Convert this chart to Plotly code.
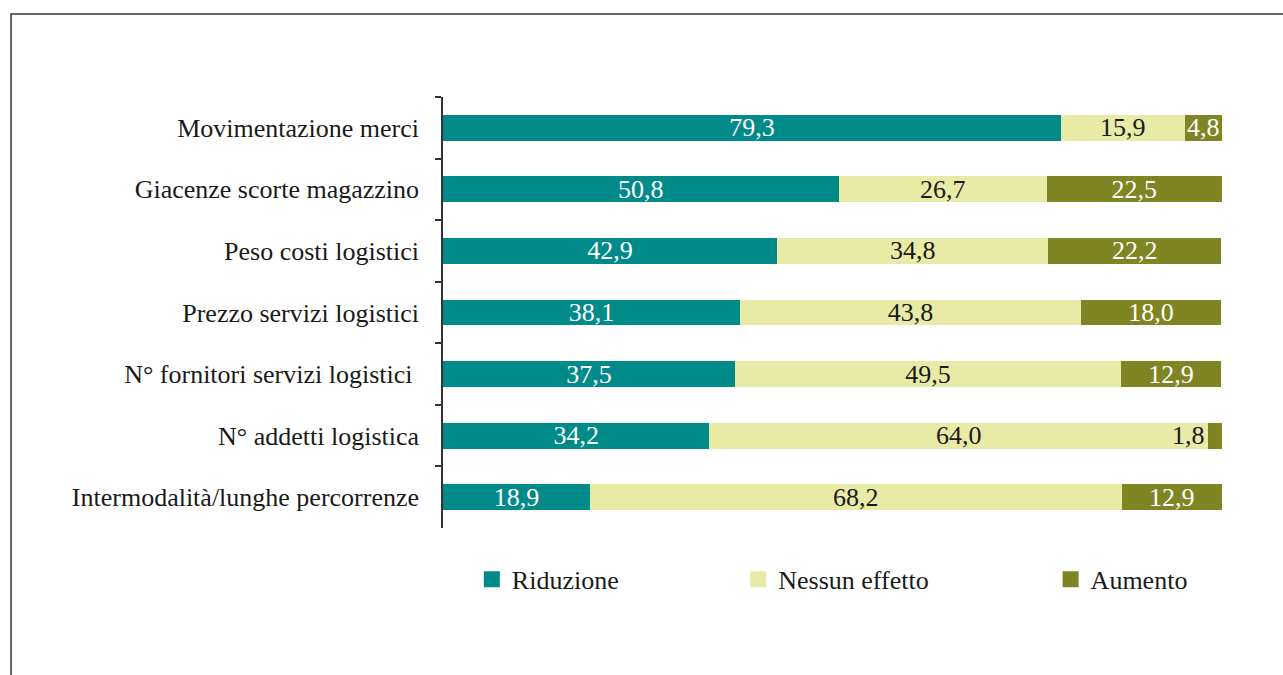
import plotly.graph_objects as go

# Categories listed top to bottom
categories = [
    "Movimentazione merci",
    "Giacenze scorte magazzino",
    "Peso costi logistici",
    "Prezzo servizi logistici",
    "N° fornitori servizi logistici\u00a0",
    "N° addetti logistica",
    "Intermodalità/lunghe percorrenze",
]
riduzione = [79.3, 50.8, 42.9, 38.1, 37.5, 34.2, 18.9]
nessun_effetto = [15.9, 26.7, 34.8, 43.8, 49.5, 64.0, 68.2]
aumento = [4.8, 22.5, 22.2, 18.0, 12.9, 1.8, 12.9]

series_names = ["Riduzione", "Nessun effetto", "Aumento"]
series_values = [riduzione, nessun_effetto, aumento]
colors = ["#008B8A", "#E8EBA6", "#808523"]
text_colors = ["#FFFFFF", "#1A1A1A", "#FFFFFF"]

FONT = "Liberation Serif"
MIN_INSIDE = 3.0  # segments narrower than this get their label outside


def fmt(v):
    return f"{v:.1f}".replace(".", ",")


fig = go.Figure()
annotations = []
for i, (name, vals, col, tcol) in enumerate(zip(series_names, series_values, colors, text_colors)):
    labels = [fmt(v) if v >= MIN_INSIDE else "" for v in vals]
    fig.add_trace(go.Bar(
        y=categories, x=vals, name=name, orientation="h",
        marker=dict(color=col, line=dict(width=0)),
        text=labels, texttemplate="%{text}", textposition="inside",
        insidetextanchor="middle", constraintext="none",
        insidetextfont=dict(family=FONT, size=26, color=tcol),
        showlegend=False, hoverinfo="skip",
    ))
    # narrow segments: label placed just left of the segment
    for j, v in enumerate(vals):
        if v < MIN_INSIDE:
            start = sum(series_values[k][j] for k in range(i))
            annotations.append(dict(
                x=start, y=categories[j], xref="x", yref="y",
                text=fmt(v), showarrow=False, xanchor="right", xshift=-1,
                font=dict(family=FONT, size=26, color="#1A1A1A"),
            ))

# Legend entries (square swatches), one legend per entry
legend_x = [0.037, 0.379, 0.78]
legend_keys = ["legend", "legend2", "legend3"]
for name, col, key in zip(series_names, colors, legend_keys):
    fig.add_trace(go.Scatter(
        x=[None], y=[None], mode="markers", name=name,
        marker=dict(symbol="square", size=17, color=col),
        legend=key, showlegend=True, hoverinfo="skip",
    ))

legend_common = dict(
    orientation="h", yanchor="middle", y=-0.119, xanchor="left",
    font=dict(family=FONT, size=26, color="#1A1A1A"),
    bgcolor="rgba(0,0,0,0)", borderwidth=0, itemsizing="trace",
    tracegroupgap=0,
)

fig.update_layout(
    width=1283, height=675,
    margin=dict(l=443, r=61, t=97, b=147),
    paper_bgcolor="white", plot_bgcolor="white",
    barmode="stack", bargap=0.58,
    font=dict(family=FONT, size=26, color="#1A1A1A"),
    xaxis=dict(range=[0, 100], visible=False, fixedrange=True),
    yaxis=dict(
        type="category", range=[6.5, -0.5],
        showline=True, linecolor="#333333", linewidth=1.5,
        ticks="outside", tickson="boundaries", ticklen=6,
        tickcolor="#333333", tickwidth=1.5,
        ticklabelstandoff=17,
        tickfont=dict(family=FONT, size=26, color="#1A1A1A"),
        showgrid=False, zeroline=False, fixedrange=True,
    ),
    legend=dict(x=legend_x[0], **legend_common),
    legend2=dict(x=legend_x[1], **legend_common),
    legend3=dict(x=legend_x[2], **legend_common),
    annotations=annotations,
    shapes=[dict(
        type="rect", xref="paper", yref="paper",
        x0=-0.5545, x1=1.1, y0=-0.45, y1=1.1926,
        line=dict(color="#333333", width=1.5), fillcolor="rgba(0,0,0,0)",
        layer="below",
    )],
)

fig.write_html("out.html")
